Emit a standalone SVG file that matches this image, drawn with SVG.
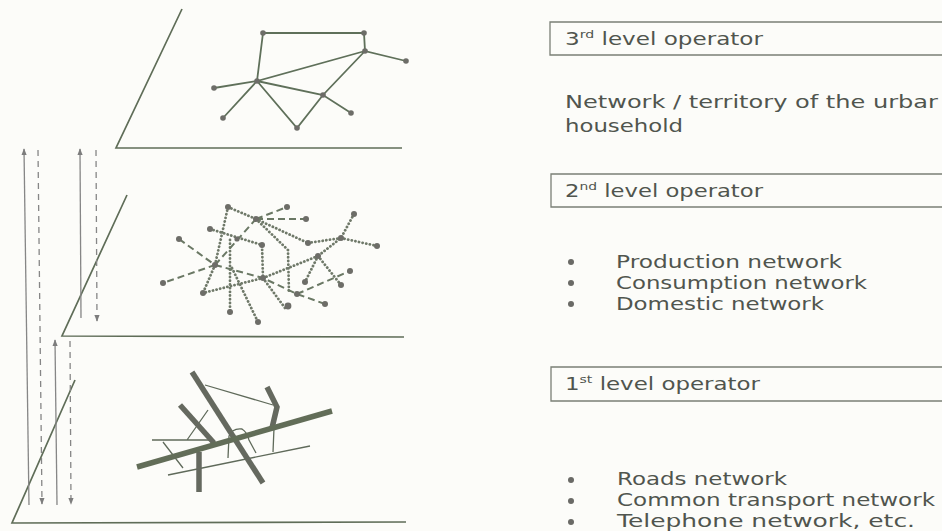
<svg xmlns="http://www.w3.org/2000/svg" width="942" height="531" viewBox="0 0 942 531">
  <defs>
    <marker id="head" viewBox="0 0 8 8" refX="7" refY="4" markerWidth="7" markerHeight="7" markerUnits="userSpaceOnUse" orient="auto-start-reverse">
      <path d="M0,1 L8,4 L0,7 Z" fill="#7d7d7d"/>
    </marker>
    <style>
      .plane { fill: none; stroke: #5f6d58; stroke-width: 1.7; }
      .edge { fill: none; stroke: #5f705a; stroke-width: 1.8; stroke-linecap: round; }
      .dot { fill: #6d6d68; }
      .dotted { fill: none; stroke: #6f7969; stroke-width: 2.8; stroke-dasharray: 0.1 3.6; stroke-linecap: round; }
      .dashed { fill: none; stroke: #6a7864; stroke-width: 2; stroke-dasharray: 7 4; }
      .road { fill: none; stroke: #65695f; stroke-width: 5.5; stroke-linecap: butt; }
      .mainroad { fill: none; stroke: #626d58; stroke-width: 5.5; }
      .street { fill: none; stroke: #5f6a5a; stroke-width: 1.3; }
      .flow { fill: none; stroke: #868686; stroke-width: 1.3; }
      .flow-d { fill: none; stroke: #868686; stroke-width: 1.3; stroke-dasharray: 6 5; }
      .box { fill: none; stroke: #7a7f76; stroke-width: 1.3; }
      .label { font-family: "DejaVu Sans", "Liberation Sans", sans-serif; font-size: 18px; fill: #50554e; }
      .sup { font-size: 11px; }
      .bullet { fill: #6a6a66; }
    </style>
  </defs>
  <rect width="942" height="531" fill="#fcfcf9"/>

  <!-- three stacked planes -->
  <g id="plane-3">
    <polyline class="plane" points="182,9 116,148 402,148"/>
  </g>
  <g id="plane-2">
    <polyline class="plane" points="127,195 62,336 404,337"/>
  </g>
  <g id="plane-1">
    <polyline class="plane" points="75,380 12,523 406,522"/>
  </g>

  <!-- vertical exchange arrows between the levels -->
  <g id="connectors">
    <line class="flow" x1="29" y1="505" x2="24" y2="149" marker-end="url(#head)"/>
    <line class="flow-d" x1="38" y1="150" x2="42" y2="504" marker-end="url(#head)"/>
    <line class="flow" x1="81" y1="318" x2="80" y2="149" marker-end="url(#head)"/>
    <line class="flow-d" x1="96" y1="150" x2="97" y2="321" marker-end="url(#head)"/>
    <line class="flow" x1="57" y1="505" x2="55" y2="340" marker-end="url(#head)"/>
    <line class="flow-d" x1="70" y1="341" x2="71" y2="504" marker-end="url(#head)"/>
  </g>

  <!-- level 3: household network -->
  <g id="network-3">
    <path class="edge" d="M263,33 L364,33 L365,51 L406,61 M365,51 L257,81 L263,33 M257,81 L214,88 M257,81 L223,118 M257,81 L297,128 L323,95 L365,51 M257,81 L323,95 L351,113"/>
    <circle class="dot" cx="263" cy="33" r="2.8"/>
    <circle class="dot" cx="364" cy="33" r="2.8"/>
    <circle class="dot" cx="365" cy="51" r="2.8"/>
    <circle class="dot" cx="406" cy="61" r="2.8"/>
    <circle class="dot" cx="257" cy="81" r="2.8"/>
    <circle class="dot" cx="214" cy="88" r="2.8"/>
    <circle class="dot" cx="223" cy="118" r="2.8"/>
    <circle class="dot" cx="297" cy="128" r="2.8"/>
    <circle class="dot" cx="323" cy="95" r="2.8"/>
    <circle class="dot" cx="351" cy="113" r="2.8"/>
  </g>

  <!-- level 2: production / consumption / domestic networks -->
  <g id="network-2">
    <path class="dotted" d="M228,207 L256,219 M228,207 L215,265 M256,219 L288,250 L289,294 M256,219 L308,243 M210,229 L262,245 L263,278 M263,278 L318,256 M318,256 L341,285 M308,243 L341,238 L377,246 M354,214 L341,238 L318,256 M215,265 L203,293 L263,278 M230,240 L230,312 M232,268 L258,322 M263,278 L285,308 M318,256 L305,282"/>
    <path class="dashed" d="M256,219 L287,207 M256,219 L306,219 M179,239 L215,265 L163,283 M215,265 L256,219 M215,265 L263,278 L297,294 L325,304 M297,294 L350,271"/>
    <g class="dot">
      <circle cx="228" cy="207" r="3"/>
      <circle cx="287" cy="207" r="3"/>
      <circle cx="256" cy="219" r="3"/>
      <circle cx="306" cy="219" r="3"/>
      <circle cx="354" cy="214" r="3"/>
      <circle cx="210" cy="229" r="3"/>
      <circle cx="179" cy="239" r="3"/>
      <circle cx="237" cy="239" r="2.6"/>
      <circle cx="262" cy="245" r="3"/>
      <circle cx="308" cy="243" r="3"/>
      <circle cx="341" cy="238" r="3"/>
      <circle cx="377" cy="246" r="3"/>
      <circle cx="318" cy="256" r="3"/>
      <circle cx="215" cy="265" r="3"/>
      <circle cx="163" cy="283" r="3"/>
      <circle cx="263" cy="278" r="3"/>
      <circle cx="350" cy="271" r="3"/>
      <circle cx="203" cy="293" r="3"/>
      <circle cx="305" cy="282" r="3"/>
      <circle cx="341" cy="285" r="3"/>
      <circle cx="297" cy="294" r="3"/>
      <circle cx="325" cy="304" r="3"/>
      <circle cx="230" cy="312" r="3"/>
      <circle cx="288" cy="306" r="3.4"/>
      <circle cx="258" cy="322" r="3"/>
    </g>
  </g>

  <!-- level 1: roads, transport and telephone lines -->
  <g id="network-1">
    <path class="street" d="M205,385 L273,405 M152,440 L213,440 M168,475 L310,446 M163,442 L183,468 M187,440 L208,410 M228,458 L229,436 Q232,428 242,429 Q247,432 249,440 L256,453 M274,428 L273,452"/>
    <line class="road" x1="192" y1="372" x2="263" y2="483"/>
    <line class="road" x1="180" y1="405" x2="214" y2="443"/>
    <line class="road" x1="199" y1="452" x2="199" y2="492"/>
    <polyline class="road" stroke-width="4.5" points="267,387 277,407 272,428"/>
    <line class="mainroad" x1="137" y1="467" x2="332" y2="411"/>
  </g>

  <!-- legend -->
  <g id="legend-3">
    <path class="box" d="M942,22 L550,22 L550,55 L942,55"/>
    <text class="label" x="565" y="45" textLength="198" lengthAdjust="spacingAndGlyphs">3<tspan class="sup" dy="-7">rd</tspan><tspan dy="7"> level operator</tspan></text>
    <text class="label" x="565" y="108" textLength="373" lengthAdjust="spacingAndGlyphs">Network / territory of the urbar</text>
    <text class="label" x="565" y="132" textLength="118" lengthAdjust="spacingAndGlyphs">household</text>
  </g>
  <g id="legend-2">
    <path class="box" d="M942,174 L551,174 L551,207 L942,207"/>
    <text class="label" x="565" y="197" textLength="198" lengthAdjust="spacingAndGlyphs">2<tspan class="sup" dy="-7">nd</tspan><tspan dy="7"> level operator</tspan></text>
    <circle class="bullet" cx="571" cy="262" r="3"/>
    <circle class="bullet" cx="571" cy="283" r="3"/>
    <circle class="bullet" cx="571" cy="304" r="3"/>
    <text class="label" x="616" y="268" textLength="226" lengthAdjust="spacingAndGlyphs">Production network</text>
    <text class="label" x="616" y="289" textLength="251" lengthAdjust="spacingAndGlyphs">Consumption network</text>
    <text class="label" x="616" y="310" textLength="208" lengthAdjust="spacingAndGlyphs">Domestic network</text>
  </g>
  <g id="legend-1">
    <path class="box" d="M942,367 L551,367 L551,401 L942,401"/>
    <text class="label" x="565" y="390" textLength="195" lengthAdjust="spacingAndGlyphs">1<tspan class="sup" dy="-7">st</tspan><tspan dy="7"> level operator</tspan></text>
    <circle class="bullet" cx="571" cy="480" r="3"/>
    <circle class="bullet" cx="571" cy="501" r="3"/>
    <circle class="bullet" cx="571" cy="522" r="3"/>
    <text class="label" x="617" y="485" textLength="170" lengthAdjust="spacingAndGlyphs">Roads network</text>
    <text class="label" x="617" y="506" textLength="318" lengthAdjust="spacingAndGlyphs">Common transport network</text>
    <text class="label" x="617" y="527" textLength="298" lengthAdjust="spacingAndGlyphs">Telephone network, etc.</text>
  </g>
</svg>
